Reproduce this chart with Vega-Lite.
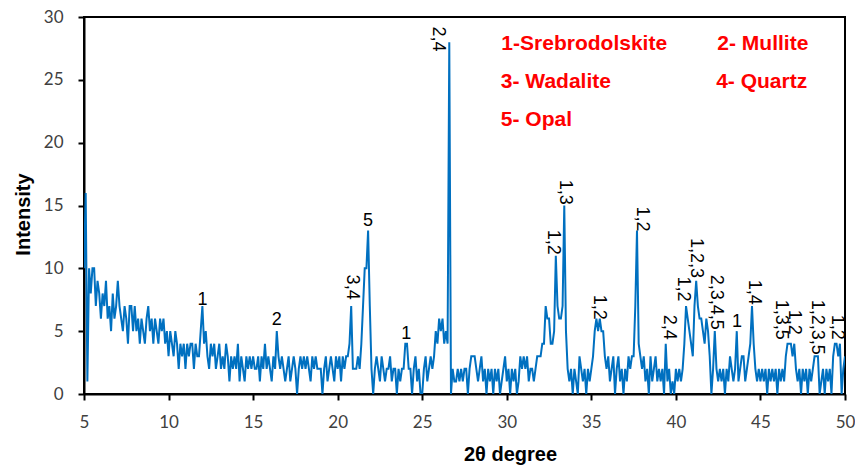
{
"$schema": "https://vega.github.io/schema/vega-lite/v6.json",
"width": 761, "height": 377,
"autosize": {"type": "none"},
"padding": {"left": 84, "top": 17, "right": 10, "bottom": 74},
"background": "white",
"config": {"view": {"stroke": "black", "strokeWidth": 2}, "font": "Liberation Sans"},
"datasets": {
"xrd": [
{"t":5.0,"i":10},{"t":5.1,"i":16},{"t":5.2,"i":1},{"t":5.3,"i":10},{"t":5.4,"i":8},{"t":5.5,"i":10},{"t":5.6,"i":10},{"t":5.7,"i":7},{"t":5.8,"i":9},{"t":5.9,"i":8},
{"t":6.0,"i":6},{"t":6.1,"i":8},{"t":6.2,"i":7},{"t":6.3,"i":9},{"t":6.4,"i":6},{"t":6.5,"i":7},{"t":6.6,"i":5},{"t":6.7,"i":8},{"t":6.8,"i":6},{"t":6.9,"i":7},
{"t":7.0,"i":9},{"t":7.1,"i":7},{"t":7.2,"i":6},{"t":7.3,"i":5},{"t":7.4,"i":7},{"t":7.5,"i":6},{"t":7.6,"i":4},{"t":7.7,"i":7},{"t":7.8,"i":7},{"t":7.9,"i":5},
{"t":8.0,"i":7},{"t":8.1,"i":5},{"t":8.2,"i":6},{"t":8.3,"i":4},{"t":8.4,"i":6},{"t":8.5,"i":5},{"t":8.6,"i":4},{"t":8.7,"i":6},{"t":8.8,"i":7},{"t":8.9,"i":5},
{"t":9.0,"i":6},{"t":9.1,"i":4},{"t":9.2,"i":6},{"t":9.3,"i":5},{"t":9.4,"i":4},{"t":9.5,"i":6},{"t":9.6,"i":5},{"t":9.7,"i":6},{"t":9.8,"i":4},{"t":9.9,"i":5},
{"t":10.0,"i":3},{"t":10.1,"i":5},{"t":10.2,"i":4},{"t":10.3,"i":3},{"t":10.4,"i":5},{"t":10.5,"i":4},{"t":10.6,"i":2},{"t":10.7,"i":4},{"t":10.8,"i":3},{"t":10.9,"i":4},
{"t":11.0,"i":2},{"t":11.1,"i":4},{"t":11.2,"i":3},{"t":11.3,"i":4},{"t":11.4,"i":4},{"t":11.5,"i":2},{"t":11.6,"i":4},{"t":11.7,"i":3},{"t":11.8,"i":3},{"t":11.9,"i":5},
{"t":12.0,"i":7},{"t":12.1,"i":4},{"t":12.2,"i":5},{"t":12.3,"i":3},{"t":12.4,"i":2},{"t":12.5,"i":4},{"t":12.6,"i":3},{"t":12.7,"i":4},{"t":12.8,"i":2},{"t":12.9,"i":3},
{"t":13.0,"i":4},{"t":13.1,"i":2},{"t":13.2,"i":3},{"t":13.3,"i":2},{"t":13.4,"i":4},{"t":13.5,"i":3},{"t":13.6,"i":1},{"t":13.7,"i":3},{"t":13.8,"i":2},{"t":13.9,"i":3},
{"t":14.0,"i":2},{"t":14.1,"i":4},{"t":14.2,"i":1},{"t":14.3,"i":3},{"t":14.4,"i":2},{"t":14.5,"i":1},{"t":14.6,"i":3},{"t":14.7,"i":2},{"t":14.8,"i":3},{"t":14.9,"i":2},
{"t":15.0,"i":3},{"t":15.1,"i":2},{"t":15.2,"i":2},{"t":15.3,"i":3},{"t":15.4,"i":1},{"t":15.5,"i":3},{"t":15.6,"i":2},{"t":15.7,"i":4},{"t":15.8,"i":2},{"t":15.9,"i":3},
{"t":16.0,"i":2},{"t":16.1,"i":1},{"t":16.2,"i":3},{"t":16.3,"i":2},{"t":16.4,"i":5},{"t":16.5,"i":3},{"t":16.6,"i":2},{"t":16.7,"i":3},{"t":16.8,"i":2},{"t":16.9,"i":1},
{"t":17.0,"i":2},{"t":17.1,"i":3},{"t":17.2,"i":1},{"t":17.3,"i":2},{"t":17.4,"i":3},{"t":17.5,"i":2},{"t":17.6,"i":0},{"t":17.7,"i":2},{"t":17.8,"i":3},{"t":17.9,"i":2},
{"t":18.0,"i":3},{"t":18.1,"i":2},{"t":18.2,"i":3},{"t":18.3,"i":2},{"t":18.4,"i":1},{"t":18.5,"i":3},{"t":18.6,"i":2},{"t":18.7,"i":3},{"t":18.8,"i":2},{"t":18.9,"i":2},
{"t":19.0,"i":2},{"t":19.1,"i":0},{"t":19.2,"i":2},{"t":19.3,"i":3},{"t":19.4,"i":1},{"t":19.5,"i":2},{"t":19.6,"i":3},{"t":19.7,"i":2},{"t":19.8,"i":1},{"t":19.9,"i":3},
{"t":20.0,"i":2},{"t":20.1,"i":3},{"t":20.2,"i":1},{"t":20.3,"i":3},{"t":20.4,"i":2},{"t":20.5,"i":3},{"t":20.6,"i":3},{"t":20.7,"i":4},{"t":20.8,"i":7},{"t":20.9,"i":2},
{"t":21.0,"i":2},{"t":21.1,"i":2},{"t":21.2,"i":3},{"t":21.3,"i":2},{"t":21.4,"i":4},{"t":21.5,"i":7},{"t":21.6,"i":10},{"t":21.7,"i":10},{"t":21.8,"i":13},{"t":21.9,"i":7},
{"t":22.0,"i":2},{"t":22.1,"i":0},{"t":22.2,"i":2},{"t":22.3,"i":3},{"t":22.4,"i":2},{"t":22.5,"i":1},{"t":22.6,"i":3},{"t":22.7,"i":2},{"t":22.8,"i":1},{"t":22.9,"i":2},
{"t":23.0,"i":2},{"t":23.1,"i":3},{"t":23.2,"i":1},{"t":23.3,"i":2},{"t":23.4,"i":2},{"t":23.5,"i":0},{"t":23.6,"i":2},{"t":23.7,"i":1},{"t":23.8,"i":2},{"t":23.9,"i":2},
{"t":24.0,"i":4},{"t":24.1,"i":4},{"t":24.2,"i":2},{"t":24.3,"i":2},{"t":24.4,"i":0},{"t":24.5,"i":2},{"t":24.6,"i":3},{"t":24.7,"i":1},{"t":24.8,"i":2},{"t":24.9,"i":0},
{"t":25.0,"i":0},{"t":25.1,"i":2},{"t":25.2,"i":3},{"t":25.3,"i":1},{"t":25.4,"i":2},{"t":25.5,"i":3},{"t":25.6,"i":2},{"t":25.7,"i":3},{"t":25.8,"i":5},{"t":25.9,"i":4},
{"t":26.0,"i":6},{"t":26.1,"i":5},{"t":26.2,"i":6},{"t":26.3,"i":4},{"t":26.4,"i":5},{"t":26.5,"i":4},{"t":26.6,"i":28},{"t":26.7,"i":0},{"t":26.8,"i":2},{"t":26.9,"i":1},
{"t":27.0,"i":1},{"t":27.1,"i":2},{"t":27.2,"i":1},{"t":27.3,"i":2},{"t":27.4,"i":1},{"t":27.5,"i":2},{"t":27.6,"i":2},{"t":27.7,"i":0},{"t":27.8,"i":2},{"t":27.9,"i":3},
{"t":28.0,"i":3},{"t":28.1,"i":3},{"t":28.2,"i":2},{"t":28.3,"i":1},{"t":28.4,"i":2},{"t":28.5,"i":3},{"t":28.6,"i":1},{"t":28.7,"i":2},{"t":28.8,"i":0},{"t":28.9,"i":2},
{"t":29.0,"i":1},{"t":29.1,"i":2},{"t":29.2,"i":0},{"t":29.3,"i":2},{"t":29.4,"i":1},{"t":29.5,"i":2},{"t":29.6,"i":0},{"t":29.7,"i":1},{"t":29.8,"i":2},{"t":29.9,"i":3},
{"t":30.0,"i":1},{"t":30.1,"i":2},{"t":30.2,"i":0},{"t":30.3,"i":2},{"t":30.4,"i":1},{"t":30.5,"i":2},{"t":30.6,"i":0},{"t":30.7,"i":1},{"t":30.8,"i":3},{"t":30.9,"i":2},
{"t":31.0,"i":3},{"t":31.1,"i":2},{"t":31.2,"i":3},{"t":31.3,"i":1},{"t":31.4,"i":2},{"t":31.5,"i":2},{"t":31.6,"i":1},{"t":31.7,"i":2},{"t":31.8,"i":3},{"t":31.9,"i":3},
{"t":32.0,"i":3},{"t":32.1,"i":4},{"t":32.2,"i":4},{"t":32.3,"i":7},{"t":32.4,"i":6},{"t":32.5,"i":6},{"t":32.6,"i":4},{"t":32.7,"i":4},{"t":32.8,"i":5},{"t":32.9,"i":11},
{"t":33.0,"i":7},{"t":33.1,"i":6},{"t":33.2,"i":6},{"t":33.3,"i":7},{"t":33.4,"i":15},{"t":33.5,"i":5},{"t":33.6,"i":2},{"t":33.7,"i":1},{"t":33.8,"i":2},{"t":33.9,"i":0},
{"t":34.0,"i":2},{"t":34.1,"i":1},{"t":34.2,"i":0},{"t":34.3,"i":3},{"t":34.4,"i":2},{"t":34.5,"i":1},{"t":34.6,"i":2},{"t":34.7,"i":0},{"t":34.8,"i":2},{"t":34.9,"i":1},
{"t":35.0,"i":2},{"t":35.1,"i":3},{"t":35.2,"i":5},{"t":35.3,"i":6},{"t":35.4,"i":5},{"t":35.5,"i":6},{"t":35.6,"i":5},{"t":35.7,"i":5},{"t":35.8,"i":3},{"t":35.9,"i":2},
{"t":36.0,"i":3},{"t":36.1,"i":1},{"t":36.2,"i":2},{"t":36.3,"i":3},{"t":36.4,"i":0},{"t":36.5,"i":2},{"t":36.6,"i":3},{"t":36.7,"i":1},{"t":36.8,"i":2},{"t":36.9,"i":0},
{"t":37.0,"i":2},{"t":37.1,"i":1},{"t":37.2,"i":3},{"t":37.3,"i":2},{"t":37.4,"i":3},{"t":37.5,"i":3},{"t":37.6,"i":7},{"t":37.7,"i":13},{"t":37.8,"i":4},{"t":37.9,"i":3},
{"t":38.0,"i":2},{"t":38.1,"i":3},{"t":38.2,"i":1},{"t":38.3,"i":2},{"t":38.4,"i":0},{"t":38.5,"i":3},{"t":38.6,"i":1},{"t":38.7,"i":2},{"t":38.8,"i":3},{"t":38.9,"i":1},
{"t":39.0,"i":2},{"t":39.1,"i":1},{"t":39.2,"i":2},{"t":39.3,"i":0},{"t":39.4,"i":4},{"t":39.5,"i":1},{"t":39.6,"i":2},{"t":39.7,"i":0},{"t":39.8,"i":1},{"t":39.9,"i":0},
{"t":40.0,"i":2},{"t":40.1,"i":1},{"t":40.2,"i":2},{"t":40.3,"i":1},{"t":40.4,"i":2},{"t":40.5,"i":4},{"t":40.6,"i":7},{"t":40.7,"i":6},{"t":40.8,"i":5},{"t":40.9,"i":4},
{"t":41.0,"i":3},{"t":41.1,"i":7},{"t":41.2,"i":9},{"t":41.3,"i":7},{"t":41.4,"i":6},{"t":41.5,"i":6},{"t":41.6,"i":5},{"t":41.7,"i":4},{"t":41.8,"i":6},{"t":41.9,"i":5},
{"t":42.0,"i":3},{"t":42.1,"i":0},{"t":42.2,"i":2},{"t":42.3,"i":5},{"t":42.4,"i":2},{"t":42.5,"i":1},{"t":42.6,"i":2},{"t":42.7,"i":1},{"t":42.8,"i":2},{"t":42.9,"i":0},
{"t":43.0,"i":2},{"t":43.1,"i":1},{"t":43.2,"i":3},{"t":43.3,"i":2},{"t":43.4,"i":1},{"t":43.5,"i":2},{"t":43.6,"i":5},{"t":43.7,"i":1},{"t":43.8,"i":2},{"t":43.9,"i":3},
{"t":44.0,"i":3},{"t":44.1,"i":1},{"t":44.2,"i":2},{"t":44.3,"i":3},{"t":44.4,"i":4},{"t":44.5,"i":7},{"t":44.6,"i":4},{"t":44.7,"i":2},{"t":44.8,"i":1},{"t":44.9,"i":2},
{"t":45.0,"i":1},{"t":45.1,"i":2},{"t":45.2,"i":1},{"t":45.3,"i":2},{"t":45.4,"i":0},{"t":45.5,"i":2},{"t":45.6,"i":1},{"t":45.7,"i":2},{"t":45.8,"i":1},{"t":45.9,"i":2},
{"t":46.0,"i":0},{"t":46.1,"i":2},{"t":46.2,"i":1},{"t":46.3,"i":2},{"t":46.4,"i":1},{"t":46.5,"i":3},{"t":46.6,"i":4},{"t":46.7,"i":4},{"t":46.8,"i":4},{"t":46.9,"i":3},
{"t":47.0,"i":4},{"t":47.1,"i":2},{"t":47.2,"i":1},{"t":47.3,"i":2},{"t":47.4,"i":0},{"t":47.5,"i":2},{"t":47.6,"i":1},{"t":47.7,"i":2},{"t":47.8,"i":0},{"t":47.9,"i":2},
{"t":48.0,"i":1},{"t":48.1,"i":2},{"t":48.2,"i":3},{"t":48.3,"i":3},{"t":48.4,"i":3},{"t":48.5,"i":0},{"t":48.6,"i":1},{"t":48.7,"i":2},{"t":48.8,"i":0},{"t":48.9,"i":2},
{"t":49.0,"i":1},{"t":49.1,"i":2},{"t":49.2,"i":0},{"t":49.3,"i":3},{"t":49.4,"i":4},{"t":49.5,"i":4},{"t":49.6,"i":3},{"t":49.7,"i":4},{"t":49.8,"i":0},{"t":49.9,"i":2},
{"t":50.0,"i":3}
],
"hlabels": [
{"t":12.0,"i":7.1,"label":"1"},
{"t":16.4,"i":5.5,"label":"2"},
{"t":21.8,"i":13.4,"label":"5"},
{"t":24.05,"i":4.4,"label":"1"},
{"t":43.62,"i":5.3,"label":"1"}
],
"vlabels": [
{"t":20.86,"i":9.5,"label":"3,4"},
{"t":25.95,"i":29.25,"label":"2,4"},
{"t":32.72,"i":13.07,"label":"1,2"},
{"t":33.46,"i":17.05,"label":"1,3"},
{"t":35.47,"i":7.9,"label":"1,2"},
{"t":38.0,"i":14.93,"label":"1,2"},
{"t":39.62,"i":6.31,"label":"2,4"},
{"t":40.44,"i":9.36,"label":"1,2"},
{"t":41.21,"i":12.41,"label":"1,2,3"},
{"t":42.4,"i":9.49,"label":"2,3,4,5"},
{"t":44.6,"i":9.09,"label":"1,4"},
{"t":46.24,"i":7.5,"label":"1,3,5"},
{"t":47.01,"i":6.7,"label":"1,2"},
{"t":48.37,"i":7.5,"label":"1,2,3,5"},
{"t":49.52,"i":6.31,"label":"1,2"}
],
"legend": [
{"t":29.68,"i":27.39,"label":"1-Srebrodolskite"},
{"t":42.45,"i":27.39,"label":"2- Mullite"},
{"t":29.65,"i":24.34,"label":"3- Wadalite"},
{"t":42.38,"i":24.34,"label":"4- Quartz"},
{"t":29.65,"i":21.29,"label":"5- Opal"}
]
},
"layer": [
{
"data": {"name": "xrd"},
"mark": {"type": "line", "color": "#0070C0", "strokeWidth": 2, "clip": true},
"encoding": {
"x": {"field": "t", "type": "quantitative",
"scale": {"domain": [5, 50], "nice": false, "zero": false},
"axis": {"values": [5,10,15,20,25,30,35,40,45,50], "title": "2θ degree", "grid": false,
"domainColor": "black", "domainWidth": 2, "tickColor": "black", "tickWidth": 2, "tickSize": 6,
"labelFont": "Lato", "labelFontSize": 17, "labelColor": "#404040", "labelPadding": 14,
"labelFlush": false, "labelOverlap": false,
"titleFont": "Liberation Sans", "titleFontWeight": "bold", "titleFontSize": 20, "titleColor": "black",
"titleBaseline": "alphabetic", "titleAlign": "center", "titleX": 426, "titleY": 66}},
"y": {"field": "i", "type": "quantitative",
"scale": {"domain": [0, 30], "nice": false},
"axis": {"values": [0,5,10,15,20,25,30], "title": "Intensity", "grid": false,
"domainColor": "black", "domainWidth": 2, "tickColor": "black", "tickWidth": 2, "tickSize": 6,
"labelFont": "Lato", "labelFontSize": 17, "labelColor": "#404040", "labelPadding": 15,
"labelFlush": false, "labelOverlap": false,
"titleFont": "Liberation Sans", "titleFontWeight": "bold", "titleFontSize": 20, "titleColor": "black",
"titleAngle": -90, "titleBaseline": "alphabetic", "titleAlign": "center", "titleX": -55, "titleY": 197}}
}
},
{
"data": {"name": "hlabels"},
"mark": {"type": "text", "font": "Liberation Sans", "fontSize": 18, "align": "center", "baseline": "alphabetic", "color": "black"},
"encoding": {"x": {"field": "t", "type": "quantitative"}, "y": {"field": "i", "type": "quantitative"}, "text": {"field": "label"}}
},
{
"data": {"name": "vlabels"},
"mark": {"type": "text", "font": "Liberation Sans", "fontSize": 18, "angle": 90, "align": "left", "baseline": "middle", "color": "black"},
"encoding": {"x": {"field": "t", "type": "quantitative"}, "y": {"field": "i", "type": "quantitative"}, "text": {"field": "label"}}
},
{
"data": {"name": "legend"},
"mark": {"type": "text", "font": "Liberation Sans", "fontWeight": "bold", "fontSize": 21, "align": "left", "baseline": "alphabetic", "color": "#FF0000"},
"encoding": {"x": {"field": "t", "type": "quantitative"}, "y": {"field": "i", "type": "quantitative"}, "text": {"field": "label"}}
}
]
}
